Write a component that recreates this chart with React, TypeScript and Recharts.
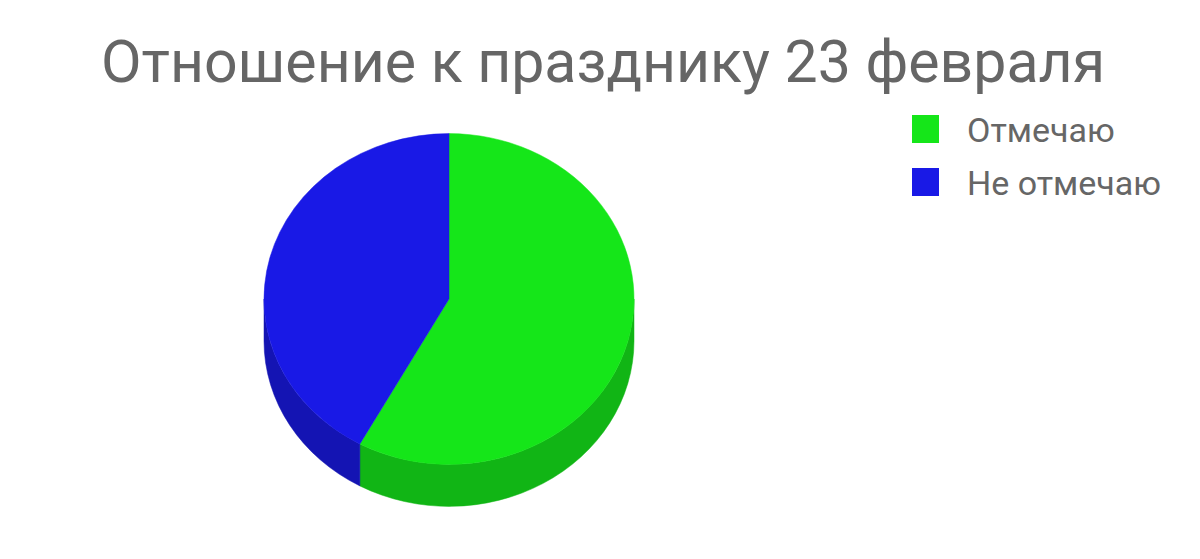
import React from "react";
import { PieChart, Pie, Legend } from "recharts";

const TITLE = "Отношение к празднику 23 февраля";
const labels = ["Отмечаю", "Не отмечаю"];
const values = [58, 42];
const topColors = ["#15e619", "#1919e6"];
const sideColors = ["#11b515", "#1414b3"];

const data = labels.map((name, i) => ({
  name,
  value: values[i],
  fill: topColors[i],
  side: sideColors[i],
}));

// ellipse squash + extrusion depth of the fake 3d pie
const TILT = 0.894;
const DEPTH = 42;

const rad = (a: number) => (a * Math.PI) / 180;

function pt(cx: number, cy: number, rx: number, ry: number, a: number) {
  return [cx + rx * Math.cos(rad(a)), cy - ry * Math.sin(rad(a))];
}

// top face of a slice, drawn as an elliptical sector
function TopSlice(props: any) {
  const { cx, cy, outerRadius, startAngle, endAngle, fill } = props;
  const rx = outerRadius;
  const ry = outerRadius * TILT;
  const [x1, y1] = pt(cx, cy, rx, ry, startAngle);
  const [x2, y2] = pt(cx, cy, rx, ry, endAngle);
  const large = Math.abs(endAngle - startAngle) > 180 ? 1 : 0;
  const sweep = startAngle > endAngle ? 1 : 0;
  const d = `M${cx},${cy} L${x1},${y1} A${rx},${ry} 0 ${large} ${sweep} ${x2},${y2} Z`;
  return <path d={d} fill={fill} stroke={fill} strokeWidth={0.5} />;
}

// visible front wall of a slice (the part of its arc on the lower half)
function SideSlice(props: any) {
  const { cx, cy, outerRadius, startAngle, endAngle, payload } = props;
  const rx = outerRadius;
  const ry = outerRadius * TILT;
  const lo = Math.min(startAngle, endAngle);
  const hi = Math.max(startAngle, endAngle);
  const parts: string[] = [];
  for (const k of [-2, -1, 0, 1]) {
    const a = Math.max(lo, -180 + 360 * k);
    const b = Math.min(hi, 360 * k);
    if (b - a <= 0.01) continue;
    const [tx1, ty1] = pt(cx, cy, rx, ry, b);
    const [tx2, ty2] = pt(cx, cy, rx, ry, a);
    const large = b - a > 180 ? 1 : 0;
    parts.push(
      `M${tx1},${ty1} A${rx},${ry} 0 ${large} 1 ${tx2},${ty2} L${tx2},${ty2 + DEPTH} A${rx},${ry} 0 ${large} 0 ${tx1},${ty1 + DEPTH} Z`
    );
  }
  const color = payload?.side ?? "#888";
  return <path d={parts.join(" ")} fill={color} stroke={color} strokeWidth={0.5} />;
}

function LegendBox(props: any) {
  const items = (props.payload || [])
    .filter((p: any) => p.type !== "none")
    .slice()
    .sort((a: any, b: any) => labels.indexOf(a.value) - labels.indexOf(b.value));
  return (
    <div>
      {items.map((p: any) => (
        <div key={p.value} style={{ display: "flex", alignItems: "center", height: 27, marginBottom: 26 }}>
          <span style={{ width: 27, height: 28, background: p.color, display: "inline-block" }} />
          <span
            style={{
              marginLeft: 28,
              fontSize: 34,
              lineHeight: "27px",
              color: "#666",
              whiteSpace: "nowrap",
              position: "relative",
              top: 2,
            }}
          >
            {p.value}
          </span>
        </div>
      ))}
    </div>
  );
}

export default function App() {
  return (
    <div
      style={{
        position: "absolute",
        left: 0,
        top: 0,
        width: 1200,
        height: 559,
        background: "#fff",
        fontFamily: "Roboto, sans-serif",
      }}
    >
      <div
        style={{
          position: "absolute",
          left: 0,
          top: 32,
          width: 1206,
          textAlign: "center",
          fontSize: 59,
          lineHeight: "59px",
          color: "#666",
          whiteSpace: "nowrap",
        }}
      >
        {TITLE}
      </div>
      <PieChart
        width={1200}
        height={559}
        margin={{ top: 0, right: 0, bottom: 0, left: 0 }}
        style={{ position: "absolute", left: 0, top: 0 }}
      >
        <Pie
          data={data}
          dataKey="value"
          nameKey="name"
          cx={449}
          cy={299}
          outerRadius={185}
          startAngle={90}
          endAngle={-270}
          stroke="none"
          legendType="none"
          shape={SideSlice}
          isAnimationActive={false}
        />
        <Pie
          data={data}
          dataKey="value"
          nameKey="name"
          cx={449}
          cy={299}
          outerRadius={185}
          startAngle={90}
          endAngle={-270}
          stroke="none"
          legendType="square"
          shape={TopSlice}
          isAnimationActive={false}
        />
        <Legend
          layout="vertical"
          verticalAlign="top"
          align="right"
          content={LegendBox}
          wrapperStyle={{ left: 912, top: 115, width: 280, right: "auto" }}
        />
      </PieChart>
    </div>
  );
}
